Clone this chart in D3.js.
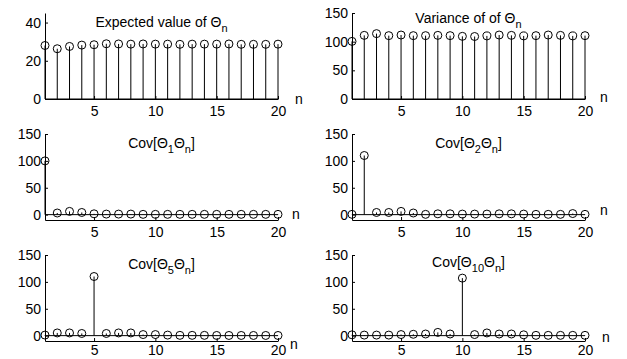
<!DOCTYPE html>
<html>
<head>
<meta charset="utf-8">
<script src="https://cdn.jsdelivr.net/npm/d3@7"></script>
<style>
  body { margin: 0; background: #fff; }
  svg { font-family: "Liberation Sans", Arial, sans-serif; }
  .axis path, .axis line { stroke: #000; }
  .axis text { font-size: 14px; fill: #000; font-family: "Liberation Sans", Arial, sans-serif; }
</style>
</head>
<body>
<script>
var n = d3.range(1, 21);

var expectedValue = [28, 26.3, 27.5, 28.2, 28.4, 28.9, 28.8, 28.7, 28.8, 28.7,
                     28.7, 28.6, 28.7, 28.7, 28.7, 28.8, 28.6, 28.6, 28.6, 28.7];
var variance = [100.5, 111, 114, 110.5, 111.6, 110.5, 110.5, 111, 110.5, 109.3,
                109, 110, 111.6, 111, 110, 110.5, 111.6, 111, 110, 110.5];
var cov1 = [100, 3, 6, 4, 1.5, 1, 1, 1, 0.5, 0.5, 0.5, 0.5, 0.5, 0.5, 0.5, 0.5, 0.5, 0.5, 0.5, 0.5];
var cov2 = [0.5, 110, 4, 4, 6, 3, 0.5, 1.5, 1.5, 1, 1, 1, 1.5, 1.5, 1, 0.5, 0.5, 0.5, 2, 0.5];
var cov5 = [1, 5, 5, 4, 110, 4, 5, 5, 2, 2, 1, 0.5, 0.5, 0.5, 0.3, 0.3, 0.3, 0.3, 0.3, 0.3];
var cov10 = [1.5, 1, 1, 1, 2, 2.5, 3, 6, 3, 107, 2, 5, 3, 3, 1.5, 0.5, 0.5, 0.5, 0.5, 0.5];

var xTicks = [5, 10, 15, 20];

// title pieces: [text, subscript?]
var panels = [
  {data: expectedValue, ydom: [0, 45], yticks: [0, 20, 40], col: 0, row: 0,
   title: [['Expected value of \u0398', 0], ['n', 1]], titleDy: 14, nPos: [21, 0]},
  {data: variance, ydom: [0, 150], yticks: [0, 50, 100, 150], col: 1, row: 0,
   title: [['Variance of of \u0398', 0], ['n', 1]], titleDy: 10, nPos: [19, -2]},
  {data: cov1, ydom: [-10, 150], yticks: [0, 50, 100, 150], col: 0, row: 1,
   title: [['Cov[\u0398', 0], ['1', 1], ['\u0398', 0], ['n', 1], [']', 0]], titleDy: 14, nPos: [18, -6]},
  {data: cov2, ydom: [-10, 150], yticks: [0, 50, 100, 150], col: 1, row: 1,
   title: [['Cov[\u0398', 0], ['2', 1], ['\u0398', 0], ['n', 1], [']', 0]], titleDy: 14, nPos: [19, -10]},
  {data: cov5, ydom: [-10, 150], yticks: [0, 50, 100, 150], col: 0, row: 2,
   title: [['Cov[\u0398', 0], ['5', 1], ['\u0398', 0], ['n', 1], [']', 0]], titleDy: 14, nPos: [16, 3]},
  {data: cov10, ydom: [-10, 150], yticks: [0, 50, 100, 150], col: 1, row: 2,
   title: [['Cov[\u0398', 0], ['10', 1], ['\u0398', 0], ['n', 1], [']', 0]], titleDy: 12, nPos: [21, -4]}
];

var colX = [45, 352], axW = 233;
var rowY = [13, 134, 255], axH = 86;
var rowPad = [7, 7, 4];

var svg = d3.select('body').append('svg')
    .attr('width', 627)
    .attr('height', 359);

panels.forEach(function(p) {
  var g = svg.append('g')
      .attr('transform', 'translate(' + colX[p.col] + ',' + rowY[p.row] + ')');

  var x = d3.scaleLinear().domain([1, 20]).range([0, axW]);
  var y = d3.scaleLinear().domain(p.ydom).range([axH, 0]);

  g.append('g')
      .attr('class', 'axis')
      .attr('transform', 'translate(0,' + axH + ')')
      .call(d3.axisBottom(x).tickValues(xTicks).tickSizeInner(-3).tickSizeOuter(0).tickPadding(rowPad[p.row]));

  g.append('g')
      .attr('class', 'axis')
      .call(d3.axisLeft(y).tickValues(p.yticks).tickSizeInner(-3).tickSizeOuter(0).tickPadding(4));

  // stem baseline
  g.append('line')
      .attr('x1', x(1)).attr('x2', x(20))
      .attr('y1', y(0)).attr('y2', y(0))
      .attr('stroke', '#000');

  g.selectAll('.stem')
      .data(p.data)
    .enter().append('line')
      .attr('class', 'stem')
      .attr('x1', function(d, i) { return x(n[i]); })
      .attr('x2', function(d, i) { return x(n[i]); })
      .attr('y1', y(0))
      .attr('y2', function(d) { return y(d); })
      .attr('stroke', '#000');

  g.selectAll('.dot')
      .data(p.data)
    .enter().append('circle')
      .attr('class', 'dot')
      .attr('cx', function(d, i) { return x(n[i]); })
      .attr('cy', function(d) { return y(d); })
      .attr('r', 4)
      .attr('fill', 'none')
      .attr('stroke', '#000');

  var t = g.append('text')
      .attr('x', axW / 2)
      .attr('y', p.titleDy)
      .attr('text-anchor', 'middle')
      .style('font-size', '14px');
  var shift = 0;
  p.title.forEach(function(piece) {
    var want = piece[1] ? 5 : 0;
    t.append('tspan')
        .attr('dy', want - shift)
        .style('font-size', piece[1] ? '11px' : '14px')
        .text(piece[0]);
    shift = want;
  });

  g.append('text')
      .attr('x', axW + p.nPos[0])
      .attr('y', axH + p.nPos[1])
      .attr('dy', '0.35em')
      .attr('text-anchor', 'middle')
      .style('font-size', '14px')
      .text('n');
});
</script>
</body>
</html>
